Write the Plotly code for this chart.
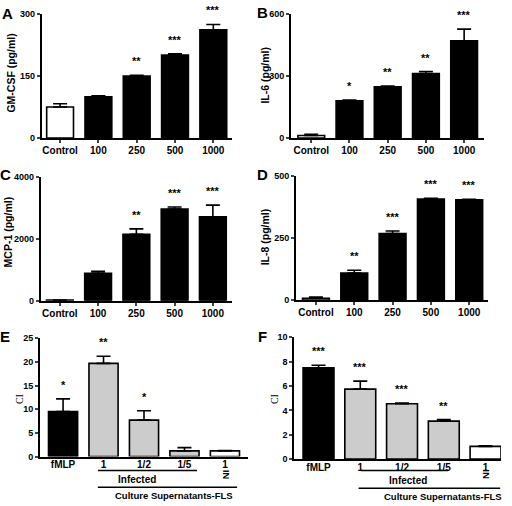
import plotly.graph_objects as go

W, H = 512, 506

# ---------------- data ----------------
dose_labels = ["Control", "100", "250", "500", "1000"]

gmcsf = [75, 100, 150, 201, 262]
gmcsf_err = [8, 2, 2, 3, 13]
gmcsf_sig = ["", "", "**", "***", "***"]

il6 = [12, 180, 248, 311, 470]
il6_err = [6, 3, 3, 10, 56]
il6_sig = ["", "*", "**", "**", "***"]

mcp1 = [20, 880, 2140, 2950, 2700]
mcp1_err = [5, 65, 175, 70, 380]
mcp1_sig = ["", "", "**", "***", "***"]

il8 = [7, 109, 268, 407, 404]
il8_err = [5, 11, 10, 3, 2]
il8_sig = ["", "**", "***", "***", "***"]

ci_labels = ["fMLP", "1", "1/2", "1/5", "1"]
ci_e = [9.5, 19.7, 7.7, 1.2, 1.2]
ci_e_err = [2.7, 1.5, 2.0, 0.7, 0.1]
ci_e_sig = ["*", "**", "*", "", ""]

ci_f = [7.5, 5.75, 4.55, 3.12, 1.05]
ci_f_err = [0.2, 0.65, 0.05, 0.12, 0.05]
ci_f_sig = ["***", "***", "***", "**", ""]

dose_colors = ["white", "black", "black", "black", "black"]
ci_colors = ["black", "#cccccc", "#cccccc", "#cccccc", "white"]

FONT = "Liberation Sans, Arial, sans-serif"
SERIF = "Liberation Serif, Times New Roman, serif"


def px_x(p):
    return p / W


def px_y(p):
    return 1 - p / H


panels = [
    (gmcsf, gmcsf_err, gmcsf_sig, dose_labels, dose_colors, 41.7, 231.7, 9.3, 135.7, [-0.48, 4.48], [0, 300], 150, 0.7, 3, -1),
    (il6, il6_err, il6_sig, dose_labels, dose_colors, 291, 484, 9, 135.7, [-0.53, 4.52], [0, 600], 300, 0.7, 3, -1),
    (mcp1, mcp1_err, mcp1_sig, dose_labels, dose_colors, 40.7, 232, 175, 301.7, [-0.5, 4.5], [0, 4000], 2000, 0.7, 3, -1),
    (il8, il8_err, il8_sig, dose_labels, dose_colors, 296, 488, 174.3, 301, [-0.52, 4.49], [0, 500], 250, 0.7, 3, -1),
    (ci_e, ci_e_err, ci_e_sig, ci_labels, ci_colors, 40, 248, 340, 460.7, [-0.57, 4.57], [0, 25], 5, 0.72, 0, -2),
    (ci_f, ci_f_err, ci_f_sig, ci_labels, ci_colors, 294.3, 501, 339, 463.3, [-0.58, 4.37], [0, 10], 2, 0.74, 0, -2),
]

fig = go.Figure()
layout = dict(
    width=W, height=H, autosize=False,
    margin=dict(l=0, r=0, t=0, b=0),
    paper_bgcolor="white", plot_bgcolor="white",
    showlegend=False, bargap=0.3,
)
annotations = []
shapes = []

for i, (vals, errs, sig, labels, colors, x0, x1, yt, yb, xr, yr, dt, bw, tl, stand) in enumerate(panels):
    n = i + 1
    xa = "x" if n == 1 else f"x{n}"
    ya = "y" if n == 1 else f"y{n}"
    xkey = "xaxis" if n == 1 else f"xaxis{n}"
    ykey = "yaxis" if n == 1 else f"yaxis{n}"
    xs = list(range(len(vals)))
    fig.add_trace(go.Bar(
        x=xs, y=vals, width=bw, xaxis=xa, yaxis=ya,
        marker=dict(color=colors, line=dict(color="black", width=1.6)),
        error_y=dict(type="data", array=errs, arrayminus=[0] * len(errs), symmetric=False,
                     color="black", thickness=1.6, width=7),
    ))
    layout[xkey] = dict(
        domain=[px_x(x0), px_x(x1)], anchor=ya, range=xr,
        tickvals=xs, ticktext=labels, ticks="outside" if tl else "", ticklen=max(tl, 1), tickwidth=1.5,
        ticklabelstandoff=stand,
        showline=True, linewidth=1.8, linecolor="black", showgrid=False, zeroline=False,
        tickfont=dict(family=FONT, size=10, color="black", weight="bold"), fixedrange=True,
    )
    layout[ykey] = dict(
        domain=[px_y(yb), px_y(yt)], anchor=xa, range=yr, dtick=dt, tick0=0,
        ticks="outside", ticklen=3, tickwidth=1.5,
        showline=True, linewidth=1.8, linecolor="black", showgrid=False, zeroline=False,
        tickfont=dict(family=FONT, size=9, color="black", weight="bold"), fixedrange=True,
    )
    for j, s in enumerate(sig):
        if s:
            annotations.append(dict(
                x=j, y=vals[j] + errs[j], xref=xa, yref=ya, text=s, showarrow=False,
                yanchor="bottom", yshift=6, font=dict(family=FONT, size=11, color="black", weight="bold"),
            ))

ytitles = [
    ("GM-CSF (pg/ml)", 11, 70, FONT, "bold", 10.5),
    ("IL-6 (pg/ml)", 265, 72, FONT, "bold", 10.5),
    ("MCP-1 (pg/ml)", 8, 232, FONT, "bold", 10.5),
    ("IL-8 (pg/ml)", 265, 237, FONT, "bold", 10.5),
    ("CI", 19, 402, SERIF, "normal", 10),
    ("CI", 274, 402, SERIF, "normal", 10),
]
for t, x, y, fam, wt, sz in ytitles:
    annotations.append(dict(
        x=px_x(x), y=px_y(y), xref="paper", yref="paper", text=t, showarrow=False,
        textangle=-90, xanchor="center", yanchor="middle",
        font=dict(family=fam, size=sz, color="black", weight=wt),
    ))

letters = [("A", 7, 9), ("B", 262, 8), ("C", 5, 173), ("D", 262, 173), ("E", 5, 338), ("F", 262, 338)]
for t, x, y in letters:
    annotations.append(dict(
        x=px_x(x), y=px_y(y), xref="paper", yref="paper", text=t, showarrow=False,
        xanchor="center", yanchor="middle",
        font=dict(family=FONT, size=15, color="black", weight="bold"),
    ))

groups = [
    ("x5", "y5 domain", (0.86, 3.31, -0.118), (1.83, -0.193), (0.86, 4.3, -0.259), (2.74, -0.326), -0.15),
    ("x6", "y6 domain", (1.01, 3.1, -0.094), (2.15, -0.175), (0.96, 4.35, -0.239), (2.99, -0.303), -0.125),
]
for xa, yd, inf_line, inf_txt, cul_line, cul_txt, ni_y in groups:
    shapes.append(dict(type="line", xref=xa, yref=yd, x0=inf_line[0], x1=inf_line[1],
                       y0=inf_line[2], y1=inf_line[2], line=dict(color="black", width=1.5)))
    shapes.append(dict(type="line", xref=xa, yref=yd, x0=cul_line[0], x1=cul_line[1],
                       y0=cul_line[2], y1=cul_line[2], line=dict(color="black", width=1.5)))
    annotations.append(dict(x=inf_txt[0], y=inf_txt[1], xref=xa, yref=yd, text="Infected",
                            showarrow=False, yanchor="middle",
                            font=dict(family=FONT, size=10, color="black", weight="bold")))
    annotations.append(dict(x=cul_txt[0], y=cul_txt[1], xref=xa, yref=yd, text="Culture Supernatants-FLS",
                            showarrow=False, yanchor="middle",
                            font=dict(family=FONT, size=9.5, color="black", weight="bold")))
    annotations.append(dict(x=4, y=ni_y, xref=xa, yref=yd, text="NI", textangle=-90,
                            showarrow=False, yanchor="middle",
                            font=dict(family=FONT, size=9.5, color="black", weight="bold")))

layout["annotations"] = annotations
layout["shapes"] = shapes
fig.update_layout(**layout)
fig.write_html(
    "out.html",
    config={"displayModeBar": False},
    post_script="document.body.style.margin='0';document.body.style.overflow='hidden';",
)
